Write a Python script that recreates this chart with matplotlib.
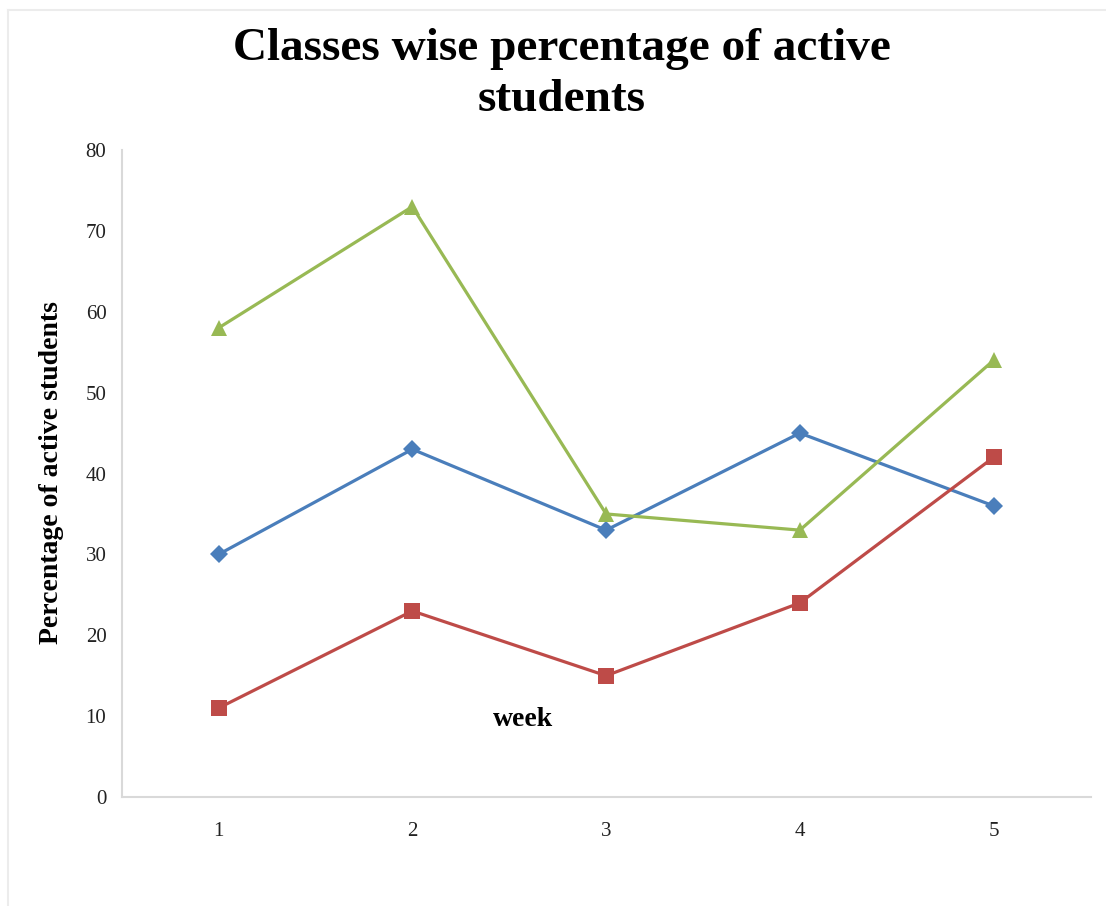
"""Class-wise percentage of active students per week (Excel-style line chart)."""

import matplotlib

matplotlib.use("Agg")
import matplotlib.pyplot as plt
from matplotlib.lines import Line2D

# ---------------------------------------------------------------------------
# Data
# ---------------------------------------------------------------------------
WEEKS = [1, 2, 3, 4, 5]
CLASS_A = [30, 43, 33, 45, 36]   # blue diamonds
CLASS_B = [11, 23, 15, 24, 42]   # red squares
CLASS_C = [58, 73, 35, 33, 54]   # green triangles
Y_TICKS = [0, 10, 20, 30, 40, 50, 60, 70, 80]

BLUE = "#4a7ebb"
RED = "#be4b48"
GREEN = "#98b954"
AXIS_GREY = "#d9d9d9"
SERIF = ["Liberation Serif", "DejaVu Serif"]

fig = plt.figure(figsize=(11.06, 9.06), dpi=100)
ax = fig.add_axes([0.110, 0.1203, 0.876, 0.7141])

series = [(CLASS_A, BLUE, "D", 9), (CLASS_B, RED, "s", 11), (CLASS_C, GREEN, "^", 11)]
for values, color, marker, size in series:
    ax.plot(WEEKS, values, color=color, linewidth=2.3, marker=marker,
            markersize=size, markeredgewidth=0, zorder=3)

ax.set_xlim(0.5, 5.5)
ax.set_ylim(0, 80)
ax.set_xticks(WEEKS)
ax.set_yticks(Y_TICKS)
ax.tick_params(axis="both", length=0, labelsize=15, colors="#222222")
ax.tick_params(axis="x", pad=18)
ax.tick_params(axis="y", pad=11)
for lbl in ax.get_xticklabels() + ax.get_yticklabels():
    lbl.set_family(SERIF)

for side in ("top", "right"):
    ax.spines[side].set_visible(False)
for side in ("left", "bottom"):
    ax.spines[side].set_color(AXIS_GREY)
    ax.spines[side].set_linewidth(1.5)

ax.set_ylabel("Percentage of active students", fontsize=20, fontweight="bold",
              family=SERIF)
ax.yaxis.set_label_coords(-0.060, 0.502)
ax.text(2.57, 9.6, "week", fontsize=20, fontweight="bold", family=SERIF,
        ha="center", va="center")

fig.text(0.508, 0.918, "Classes wise percentage of active\nstudents",
         fontsize=34, fontweight="bold", family=SERIF, ha="center", va="center",
         linespacing=1.27)

# faint chart-area border along the top and left edges
fig.add_artist(Line2D([0.007, 0.007], [0.0, 0.989], color="#ececec", linewidth=1.5))
fig.add_artist(Line2D([0.007, 1.0], [0.989, 0.989], color="#ececec", linewidth=1.5))

fig.savefig("out.png", dpi=100, facecolor="white")
